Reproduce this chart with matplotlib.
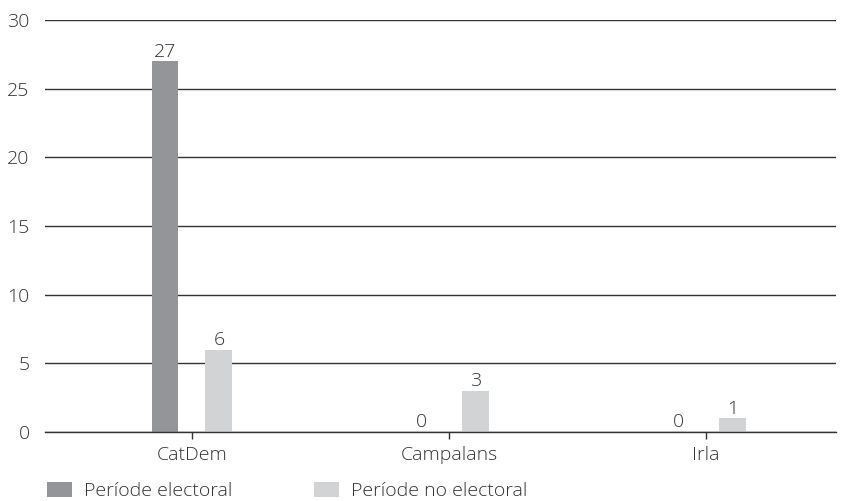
import matplotlib
matplotlib.use("Agg")
import matplotlib.pyplot as plt
import numpy as np
from matplotlib.patches import Patch

plt.rcParams['font.family'] = ['Open Sans', 'DejaVu Sans']
plt.rcParams['font.weight'] = 'light'

categories = ['CatDem', 'Campalans', 'Irla']
electoral = [27, 0, 0]
no_electoral = [6, 3, 1]
series_names = ['Període electoral', 'Període no electoral']

dark = '#939598'
light = '#d1d3d4'
txt = '#333333'
fs = 14

fig = plt.figure(figsize=(8.46, 5.01), dpi=100)
ax = fig.add_axes([0.0532, 0.1377, 0.9348, 0.8223])

x = np.arange(len(categories))
w = 0.105
off = 0.105
ax.bar(x - off, electoral, w, color=dark, zorder=3)
ax.bar(x + off, no_electoral, w, color=light, zorder=3)

for xi, v in zip(x - off, electoral):
    ax.text(xi, v + 0.05, str(v), ha='center', va='bottom', fontsize=fs, color=txt)
for xi, v in zip(x + off, no_electoral):
    ax.text(xi, v + 0.05, str(v), ha='center', va='bottom', fontsize=fs, color=txt)

ax.set_ylim(0, 30)
ax.set_xlim(-0.572, 2.506)
ax.set_yticks(range(0, 31, 5))
ax.yaxis.grid(True, color='#333333', linewidth=1, zorder=1)
ax.set_axisbelow(True)
ax.set_xticks(x)
ax.set_xticklabels(categories)
ax.tick_params(axis='y', length=0, pad=11, labelsize=fs, labelcolor=txt)
ax.tick_params(axis='x', length=5, width=1, color='#333333', pad=5, labelsize=fs, labelcolor=txt)
for s in ['left', 'right', 'top']:
    ax.spines[s].set_visible(False)
ax.spines['bottom'].set_color('#333333')
ax.spines['bottom'].set_linewidth(1)
ax.spines['bottom'].set_zorder(4)

handles = [Patch(facecolor=dark, edgecolor='none'), Patch(facecolor=light, edgecolor='none')]
fig.legend(handles, series_names, loc='lower left', bbox_to_anchor=(0.035, -0.033),
           ncol=2, frameon=False, fontsize=fs, handlelength=1.3, handleheight=0.85,
           handletextpad=0.6, columnspacing=4.2, labelcolor=txt)

fig.savefig('out.png', dpi=100)
